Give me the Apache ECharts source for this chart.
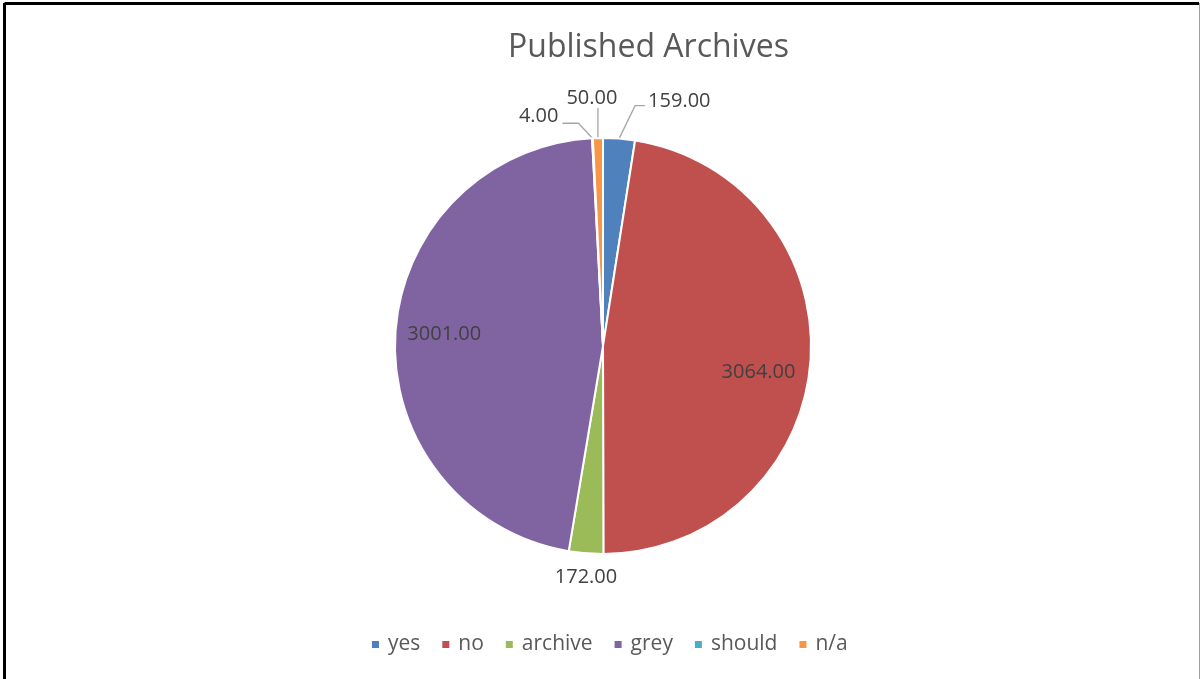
<!DOCTYPE html>
<html>
<head>
<meta charset="utf-8">
<script src="https://cdn.jsdelivr.net/npm/echarts@6/dist/echarts.min.js"></script>
<style>
  html, body { margin: 0; padding: 0; background: #fff; }
  #chart { width: 1200px; height: 679px; }
</style>
</head>
<body>
<div id="chart"></div>
<script>
// Archive publication status counts
const categories = ['yes', 'no', 'archive', 'grey', 'should', 'n/a'];
const counts = [159, 3064, 172, 3001, 4, 50];
const colors = ['#4F81BD', '#C0504D', '#9BBB59', '#8064A2', '#4BACC6', '#F79646'];
// slices whose value label sits inside the pie
const insideLabels = ['no', 'grey'];

const FONT = '"Open Sans", "Noto Sans", sans-serif';
const LABEL_SIZE = 20;
const chart = echarts.init(document.getElementById('chart'));

const fmt = p => p.value.toFixed(2);

// Leader-line placement for the outside labels, relative to the slice edge point:
// elbow / end of the line, and where the text is anchored.
const outsideLayout = {
  'yes':     { elbow: [16, -33], end: [26, -33], text: [29, -37], align: 'left',   vAlign: 'middle' },
  'archive': { text: [0, 24], align: 'center', vAlign: 'middle' },
  'should':  { elbow: [-14, -15], end: [-30, -15], text: [-34, -22], align: 'right',  vAlign: 'middle' },
  'n/a':     { elbow: [0, -30], end: [0, -30], text: [-6, -40], align: 'center', vAlign: 'middle' }
};
// small nudges for the labels drawn inside the big slices
const insideNudge = { 'no': [-3, 14], 'grey': [0, -3] };

const mainData = categories.map((name, i) => ({
  name,
  value: counts[i],
  itemStyle: { color: colors[i] },
  label: { show: !insideLabels.includes(name) },
  labelLine: { show: !insideLabels.includes(name) && name !== 'archive' }
}));

const innerLabelData = categories.map((name, i) => ({
  name,
  value: counts[i],
  label: { show: insideLabels.includes(name) }
}));

chart.setOption({
  animation: false,
  backgroundColor: '#fff',
  title: {
    text: 'Published Archives',
    left: 503,
    top: 27,
    textStyle: { fontFamily: FONT, fontSize: 32, fontWeight: 'normal', color: '#595959' }
  },
  legend: {
    data: categories,
    top: 629,
    left: 365,
    itemWidth: 9,
    itemHeight: 9,
    itemGap: 20,
    icon: 'rect',
    textStyle: { fontFamily: FONT, fontSize: 21, color: '#595959', padding: [0, 0, 0, 3] }
  },
  graphic: [
    { type: 'line', shape: { x1: 4.5, y1: 3.5, x2: 1199, y2: 3.5 }, style: { stroke: '#000', lineWidth: 3 } },
    { type: 'line', shape: { x1: 4.5, y1: 3, x2: 4.5, y2: 679 }, style: { stroke: '#000', lineWidth: 3 } },
    { type: 'line', shape: { x1: 1199.5, y1: 3, x2: 1199.5, y2: 679 }, style: { stroke: '#a0a0a0', lineWidth: 1 } }
  ],
  series: [
    {
      type: 'pie',
      center: [603, 346],
      radius: [0, 208],
      startAngle: 90,
      clockwise: true,
      avoidLabelOverlap: false,
      itemStyle: { borderColor: '#fff', borderWidth: 2 },
      label: {
        position: 'outside',
        formatter: fmt,
        fontFamily: FONT,
        fontSize: LABEL_SIZE,
        color: '#404040'
      },
      labelLine: {
        length: 14,
        length2: 12,
        lineStyle: { color: '#A6A6A6', width: 1.3 }
      },
      labelLayout: function (params) {
        const cfg = outsideLayout[categories[params.dataIndex]];
        const pts = params.labelLinePoints;
        if (!cfg || !pts) return {};
        const p0 = pts[0];
        const out = {
          x: p0[0] + cfg.text[0],
          y: p0[1] + cfg.text[1],
          align: cfg.align,
          verticalAlign: cfg.vAlign
        };
        if (cfg.elbow) {
          out.labelLinePoints = [
            [p0[0], p0[1]],
            [p0[0] + cfg.elbow[0], p0[1] + cfg.elbow[1]],
            [p0[0] + cfg.end[0], p0[1] + cfg.end[1]]
          ];
        }
        return out;
      },
      data: mainData
    },
    {
      type: 'pie',
      center: [603, 346],
      radius: [104, 208],
      startAngle: 90,
      clockwise: true,
      silent: true,
      itemStyle: { color: 'rgba(0,0,0,0)' },
      label: {
        position: 'inside',
        formatter: fmt,
        fontFamily: FONT,
        fontSize: LABEL_SIZE,
        color: '#404040'
      },
      labelLine: { show: false },
      labelLayout: function (params) {
        const n = insideNudge[categories[params.dataIndex]];
        return n ? { dx: n[0], dy: n[1] } : {};
      },
      data: innerLabelData
    }
  ]
});
</script>
</body>
</html>
